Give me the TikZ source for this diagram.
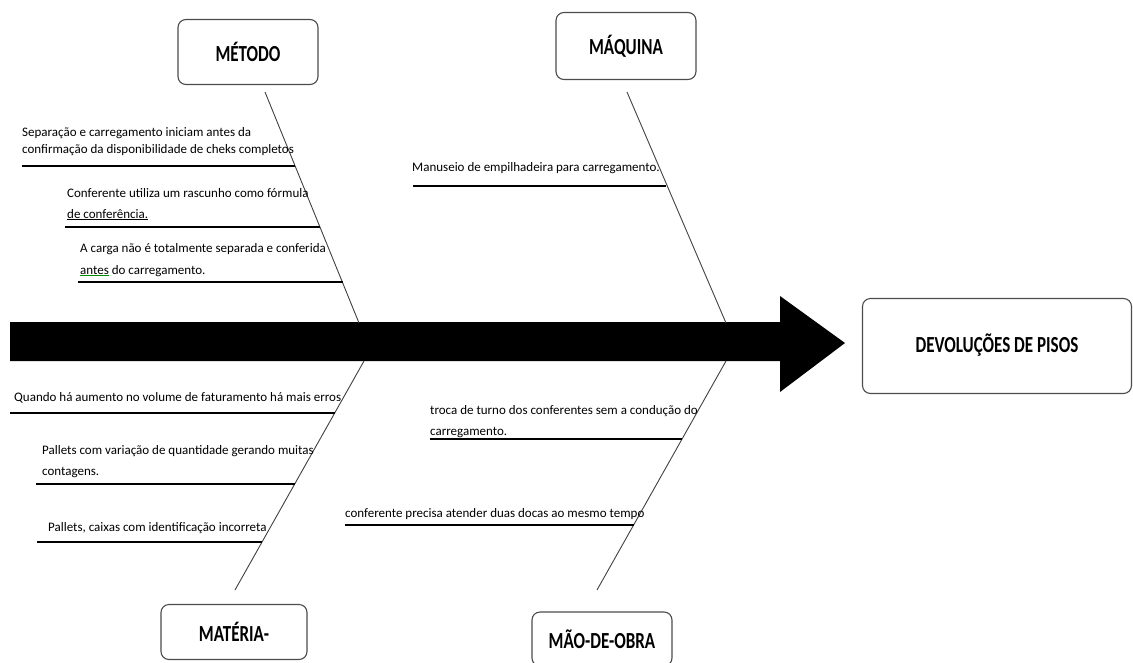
\documentclass[tikz,border=0pt]{standalone}
\usepackage{fontspec}
\setmainfont{Carlito}
\newfontfamily\lblfont[FakeStretch=0.74]{Carlito}
\begin{document}
\begin{tikzpicture}[x=1pt,y=-1pt,
  causebox/.style={draw=black!70, line width=1.1pt, rounded corners=8pt, fill=white,
    inner sep=0pt, font=\lblfont\bfseries\fontsize{23}{26}\selectfont},
  lbl/.style={anchor=base west, inner sep=0pt, align=left, font=\fontsize{13}{#1}\selectfont},
  lbl/.default=17,
  bone/.style={draw=black!75, line width=0.9pt},
  twig/.style={draw=black, line width=1.6pt},
  spine/.style={fill=black}]
\useasboundingbox (0,0) rectangle (1133,662);

% spine arrow
\fill[spine] (10,322) -- (780,322) -- (780,296) -- (845,343) -- (780,392) -- (780,361) -- (10,361) -- cycle;

% effect box
\node[causebox, minimum width=269pt, minimum height=95pt] (effect) at (997,346) {\raisebox{5pt}{DEVOLUÇÕES DE PISOS}};

% category boxes
\node[causebox, minimum width=140pt, minimum height=65pt] (metodo) at (248,52) {MÉTODO};
\node[causebox, minimum width=140pt, minimum height=67pt] (maquina) at (626,46) {MÁQUINA};
\node[causebox, minimum width=146pt, minimum height=55pt] (materia) at (234,632) {MATÉRIA-};
\node[causebox, minimum width=140pt, minimum height=54pt] (maoobra) at (602,639) {MÃO-DE-OBRA};

% bones
\coordinate (ulTop) at (265,92);   \coordinate (ulEnd) at (359,323);
\coordinate (urTop) at (627,92);   \coordinate (urEnd) at (726,323);
\coordinate (llEnd) at (364,361);  \coordinate (llBot) at (235,590);
\coordinate (lrEnd) at (726,361);  \coordinate (lrBot) at (597,590);
\draw[bone] (ulTop) -- (ulEnd);
\draw[bone] (urTop) -- (urEnd);
\draw[bone] (llEnd) -- (llBot);
\draw[bone] (lrEnd) -- (lrBot);

% METODO causes (multi-line nodes: base = last line)
\node[lbl=17] (t1) at (22,153) {Separação e carregamento iniciam antes da\\confirmação da disponibilidade de cheks completos};
\coordinate (t1a) at (22,166); \coordinate (t1b) at (295,166);
\draw[twig] (t1a) -- (t1b);
\node[lbl=21] (t2) at (67,218) {Conferente utiliza um rascunho como fórmula\\\underline{de conferência.}};
\coordinate (t2a) at (65,227); \coordinate (t2b) at (320,227);
\draw[twig] (t2a) -- (t2b);
\node[lbl=22] (t3) at (80,274) {A carga não é totalmente separada e conferida\\{\color{green!55!black}\underline{\textcolor{black}{antes}}} do carregamento.};
\coordinate (t3a) at (78,282); \coordinate (t3b) at (343,282);
\draw[twig] (t3a) -- (t3b);

% MAQUINA cause
\node[lbl] (q1) at (412,171) {Manuseio de empilhadeira para carregamento.};
\coordinate (q1a) at (413,186); \coordinate (q1b) at (666,186);
\draw[twig] (q1a) -- (q1b);

% MATERIA causes
\node[lbl] (m1) at (14,401) {Quando há aumento no volume de faturamento há mais erros};
\coordinate (m1a) at (10,413); \coordinate (m1b) at (335,413);
\draw[twig] (m1a) -- (m1b);
\node[lbl=21] (m2) at (42,475) {Pallets com variação de quantidade gerando muitas\\contagens.};
\coordinate (m2a) at (36,484); \coordinate (m2b) at (295,484);
\draw[twig] (m2a) -- (m2b);
\node[lbl] (m3) at (48,531) {Pallets, caixas com identificação incorreta};
\coordinate (m3a) at (37,542); \coordinate (m3b) at (262,542);
\draw[twig] (m3a) -- (m3b);

% MAO-DE-OBRA causes
\node[lbl=21] (o1) at (430,435) {troca de turno dos conferentes sem a condução do\\carregamento.};
\coordinate (o1a) at (430,439); \coordinate (o1b) at (682,439);
\draw[twig] (o1a) -- (o1b);
\node[lbl] (o2) at (345,517) {conferente precisa atender duas docas ao mesmo tempo};
\coordinate (o2a) at (345,525); \coordinate (o2b) at (634,525);
\draw[twig] (o2a) -- (o2b);
\end{tikzpicture}
\end{document}
